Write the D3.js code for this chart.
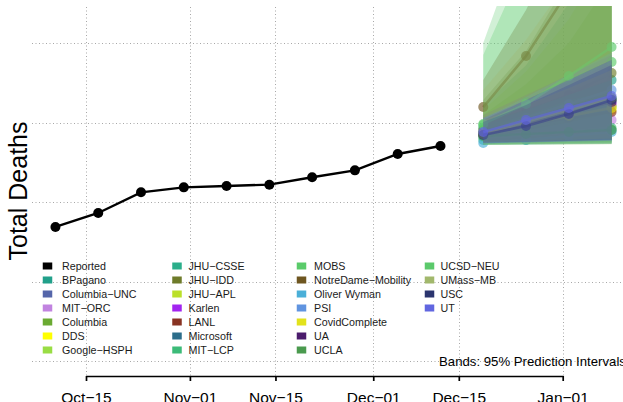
<!DOCTYPE html>
<html>
<head>
<meta charset="utf-8">
<script src="https://cdn.jsdelivr.net/npm/d3@7"></script>
<style>
  html, body { margin: 0; padding: 0; background: #ffffff; }
  svg { display: block; font-family: "Liberation Sans", Arial, Helvetica, sans-serif; }
</style>
</head>
<body>
<svg id="chart" width="623" height="402"></svg>
<script>
// ---------------- DATA ----------------
const reportedDates = ["2020-10-10","2020-10-17","2020-10-24","2020-10-31","2020-11-07",
                       "2020-11-14","2020-11-21","2020-11-28","2020-12-05","2020-12-12"];
const reportedValues = [2843, 2931, 3061, 3092, 3101, 3109, 3156, 3199, 3302, 3352];

const forecastDates = ["2020-12-19","2020-12-26","2021-01-02","2021-01-09"];

const models = ["BPagano","Columbia-UNC","MIT-ORC","Columbia","DDS","Google-HSPH",
  "JHU-CSSE","JHU-IDD","JHU-APL","Karlen","LANL","Microsoft","MIT-LCP",
  "MOBS","NotreDame-Mobility","Oliver Wyman","PSI","CovidComplete","UA","UCLA",
  "UCSD-NEU","UMass-MB","USC","UT"];

const modelColors = ["#21a08a","#5566aa","#c183e0","#6aaa32","#ffff00","#99dd44",
  "#2bae8a","#6e7b2a","#bbe02a","#a224f0","#883322","#2c6d8a","#3cbb78",
  "#5acb6a","#6e5620","#4aafd8","#6094e0","#e2e21c","#4b1c6c","#4a9a4e",
  "#5bc96b","#a2b86c","#2b356e","#6166e0"];

const medianValues = [
  [3465, 3579, 3673, 3767], // BPagano
  [3434, 3491, 3566, 3648], // Columbia-UNC
  [3421, 3459, 3491, 3516], // MIT-ORC
  [3428, 3497, 3566, 3641], // Columbia
  [3428, 3478, 3528, 3579], // DDS
  [3434, 3484, 3547, 3604], // Google-HSPH
  [3390, 3390, 3434, 3453], // JHU-CSSE
  [3453, 3566, 3673, 3811], // JHU-IDD
  [3434, 3491, 3541, 3597], // JHU-APL
  [3428, 3491, 3553, 3616], // Karlen
  [3428, 3484, 3528, 3566], // LANL
  [3434, 3503, 3579, 3654], // Microsoft
  [3409, 3421, 3440, 3465], // MIT-LCP
  [3484, 3629, 3767, 3880], // MOBS
  [3597, 3918, 4333, 4773], // NotreDame-Mobility
  [3371, 3390, 3415, 3440], // Oliver Wyman
  [3434, 3528, 3616, 3704], // PSI
  [3428, 3491, 3541, 3591], // CovidComplete
  [3428, 3491, 3560, 3629], // UA
  [3415, 3428, 3440, 3453], // UCLA
  [3491, 3616, 3792, 3975], // UCSD-NEU
  [3428, 3503, 3579, 3654], // UMass-MB
  [3421, 3478, 3553, 3641], // USC
  [3440, 3516, 3591, 3667]  // UT
];

const lowerValues = [
  [3372, 3380, 3385, 3390],
  [3375, 3380, 3385, 3390],
  [3380, 3385, 3390, 3395],
  [3370, 3372, 3375, 3378],
  [3380, 3390, 3400, 3410],
  [3375, 3380, 3385, 3390],
  [3360, 3362, 3364, 3366],
  [3380, 3400, 3420, 3440],
  [3378, 3385, 3392, 3400],
  [3376, 3382, 3388, 3394],
  [3378, 3385, 3392, 3400],
  [3372, 3376, 3380, 3384],
  [3365, 3368, 3371, 3374],
  [3362, 3365, 3368, 3371],
  [3400, 3450, 3500, 3560],
  [3360, 3362, 3364, 3366],
  [3370, 3374, 3378, 3382],
  [3376, 3384, 3392, 3400],
  [3374, 3380, 3386, 3392],
  [3362, 3364, 3366, 3368],
  [3358, 3360, 3362, 3364],
  [3360, 3361, 3362, 3363],
  [3372, 3378, 3384, 3390],
  [3370, 3375, 3380, 3385]
];

const upperValues = [
  [3610, 3860, 4250, 4700], // BPagano
  [3516, 3641, 3767, 3893], // Columbia-UNC
  [3484, 3528, 3579, 3641], // MIT-ORC
  [3547, 3740, 4000, 4400], // Columbia
  [3516, 3610, 3704, 3799], // DDS
  [3579, 3820, 4150, 4600], // Google-HSPH
  [3484, 3579, 3673, 3767], // JHU-CSSE
  [3641, 3950, 4400, 5000], // JHU-IDD
  [3528, 3641, 3767, 3893], // JHU-APL
  [3547, 3673, 3799, 3924], // Karlen
  [3516, 3610, 3704, 3799], // LANL
  [3516, 3641, 3767, 3893], // Microsoft
  [3484, 3547, 3641, 3704], // MIT-LCP
  [3924, 4522, 5151, 5843], // MOBS
  [3767, 4207, 4773, 5402], // NotreDame-Mobility
  [3484, 3579, 3673, 3767], // Oliver Wyman
  [3528, 3660, 3800, 3940], // PSI
  [3516, 3610, 3717, 3830], // CovidComplete
  [3516, 3641, 3767, 3893], // UA
  [3503, 3579, 3673, 3767], // UCLA
  [4000, 4742, 5465, 6157], // UCSD-NEU
  [3704, 4019, 4396, 4836], // UMass-MB
  [3503, 3610, 3736, 3862], // USC
  [3528, 3641, 3767, 3893]  // UT
];

const xTickDates = ["2020-10-15","2020-11-01","2020-11-15","2020-12-01","2020-12-15","2021-01-01"];
const xTickLabels = ["Oct\u221215","Nov\u221201","Nov\u221215","Dec\u221201","Dec\u221215","Jan\u221201"];
const yGridValues = [2000, 2500, 3000, 3500, 4000];

const legendLabels = ["Reported"].concat(models);
const legendColors = ["#000000"].concat(modelColors);

// ---------------- DRAW ----------------
const parse = d3.utcParse("%Y-%m-%d");
const svg = d3.select("#chart");

const plot = { left: 32, right: 623, top: 6, bottom: 376 };

const x = d3.scaleUtc()
  .domain([parse("2020-10-15"), parse("2021-01-01")])
  .range([86, 562.7]);
const y = d3.scaleLinear().domain([2000, 4000]).range([361, 43]);

svg.append("defs").append("clipPath").attr("id", "clip")
  .append("rect")
  .attr("x", plot.left).attr("y", plot.top)
  .attr("width", plot.right - plot.left).attr("height", plot.bottom - plot.top);

// grid
const grid = svg.append("g").attr("stroke", "#a8a8a8").attr("stroke-width", 1)
  .attr("stroke-dasharray", "1,2.5");
grid.selectAll("line.h").data(yGridValues).join("line")
  .attr("x1", plot.left).attr("x2", plot.right)
  .attr("y1", d => Math.round(y(d)) + 0.5).attr("y2", d => Math.round(y(d)) + 0.5);
grid.selectAll("line.v").data(xTickDates).join("line")
  .attr("x1", d => Math.round(x(parse(d))) + 0.5).attr("x2", d => Math.round(x(parse(d))) + 0.5)
  .attr("y1", 7).attr("y2", plot.bottom);

// x axis
const xAxis = d3.axisBottom(x)
  .tickValues(xTickDates.map(parse))
  .tickFormat((d, i) => xTickLabels[i])
  .tickSize(5).tickSizeOuter(0).tickPadding(11);
const gx = svg.append("g").attr("transform", `translate(0,${plot.bottom})`).call(xAxis);
gx.select(".domain").attr("stroke", "#000").attr("stroke-width", 1.7);
gx.selectAll(".tick line").attr("stroke", "#000").attr("stroke-width", 1.7);
gx.selectAll(".tick text").attr("font-size", "15.5px").attr("fill", "#000")
  .attr("font-family", "Liberation Sans, Arial, sans-serif");

// y label
svg.append("text")
  .attr("transform", "translate(27,191) rotate(-90)")
  .attr("text-anchor", "middle")
  .attr("font-size", "25px")
  .attr("fill", "#000")
  .text("Total Deaths");

// reported series
const data = svg.append("g").attr("clip-path", "url(#clip)");
const rep = reportedDates.map((d, i) => ({ date: parse(d), value: reportedValues[i] }));
const line = d3.line().x(d => x(d.date)).y(d => y(d.value));
data.append("path").datum(rep)
  .attr("fill", "none").attr("stroke", "#000").attr("stroke-width", 2.4)
  .attr("d", line);
data.selectAll("circle.rep").data(rep).join("circle")
  .attr("cx", d => x(d.date)).attr("cy", d => y(d.value)).attr("r", 5)
  .attr("fill", "#000");

// forecasts
const fDates = forecastDates.map(parse);
const area = d3.area().x(d => x(d.date)).y0(d => y(d.lo)).y1(d => y(d.hi));
models.forEach((m, k) => {
  const pts = fDates.map((d, i) => ({
    date: d, med: medianValues[k][i], lo: lowerValues[k][i], hi: upperValues[k][i]
  }));
  const g = data.append("g");
  g.append("path").datum(pts)
    .attr("fill", modelColors[k]).attr("fill-opacity", 0.28)
    .attr("d", area);
  g.append("path").datum(pts)
    .attr("fill", "none").attr("stroke", modelColors[k]).attr("stroke-opacity", 0.6)
    .attr("stroke-width", 2.6)
    .attr("d", d3.line().x(d => x(d.date)).y(d => y(d.med)));
  g.selectAll("circle").data(pts).join("circle")
    .attr("cx", d => x(d.date)).attr("cy", d => y(d.med)).attr("r", 5)
    .attr("fill", modelColors[k]).attr("fill-opacity", 0.65);
});

// legend
const colX = [47.5, 177, 301.5, 429.5];
const textX = [62, 188.5, 314, 440.5];
const legend = svg.append("g");
legendLabels.forEach((lab, i) => {
  const c = Math.floor(i / 7), r = i % 7;
  const cy = 266 + r * 14;
  legend.append("rect")
    .attr("x", colX[c] - 4.75).attr("y", cy - 3.5)
    .attr("width", 9.5).attr("height", 7)
    .attr("fill", legendColors[i]);
  legend.append("text")
    .attr("x", textX[c]).attr("y", cy + 3.8)
    .attr("font-size", "10.7px").attr("fill", "#1a1a1a")
    .text(lab.replace("-", "\u2212"));
});

svg.append("text")
  .attr("x", 439).attr("y", 366)
  .attr("font-size", "13.2px").attr("fill", "#000")
  .text("Bands: 95% Prediction Intervals");
</script>
</body>
</html>
